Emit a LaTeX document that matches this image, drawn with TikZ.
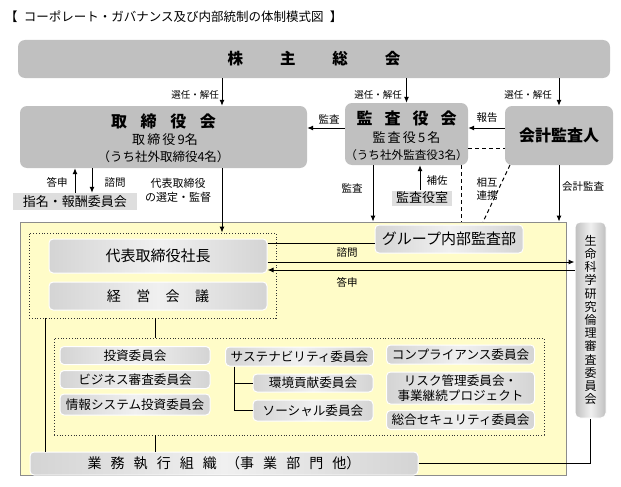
\documentclass[tikz,border=0pt]{standalone}
\usepackage{fontspec}
\setmainfont{Noto Sans CJK JP}
\usetikzlibrary{arrows.meta}
\definecolor{topgray}{RGB}{192,192,192}
\definecolor{boxgray}{RGB}{212,212,212}
\definecolor{boxlight}{RGB}{240,240,240}
\definecolor{yel}{RGB}{255,252,200}
\definecolor{lightbox}{RGB}{222,222,222}
\begin{document}
\begin{tikzpicture}[x=1pt,y=-1pt,
  topbox/.style={fill=topgray,draw=none,rounded corners=7pt,inner sep=0pt,align=center},
  inbox/.style={rounded corners=4pt,draw=white,line width=1pt,left color=boxgray,right color=boxgray,middle color=boxlight,inner sep=0pt,align=center},
  flatbox/.style={fill=lightbox,draw=none,inner sep=0pt},
  lbl/.style={font=\fontsize{10.5}{12}\selectfont,inner sep=0pt,align=center},
  arr/.style={-{Latex[length=6pt,width=5pt]},line width=1pt},
  ln/.style={line width=1pt},
  dsh/.style={line width=1pt,dash pattern=on 4pt off 3pt},
  dotbox/.style={draw=black!80,dotted,line width=0.8pt,inner sep=0pt},
  cm/.style={inbox,font=\fontsize{12.6}{14}\selectfont,minimum width=#1,minimum height=18pt},
]
\useasboundingbox (0,0) rectangle (621,487);
\fill[white] (0,0) rectangle (621,487);

% title
\node[anchor=west,inner sep=0pt,font=\fontsize{12.5}{14}\selectfont] (title) at (5,17) {【\hspace{0.5em}コーポレート・ガバナンス及び内部統制の体制模式図\hspace{0.5em}】};

% top row
\node[topbox,minimum width=592pt,minimum height=38pt,font=\bfseries\fontsize{15.5}{17}\selectfont] (gm) at (314,59) {株\hspace{37pt}主\hspace{37pt}総\hspace{37pt}会};
\node[topbox,minimum width=287pt,minimum height=62pt] (bod) at (163.5,137) {};
\node[font=\bfseries\fontsize{16}{18}\selectfont,inner sep=0pt] at (163.5,121) {取\hspace{0.85em}締\hspace{0.85em}役\hspace{0.85em}会};
\node[font=\fontsize{13}{15}\selectfont,inner sep=0pt] at (165,140) {取\,締\,役\,9名};
\node[font=\fontsize{12.5}{14}\selectfont,inner sep=0pt] at (163.5,157) {（うち社外取締役4名）};

\node[topbox,minimum width=123pt,minimum height=62pt] (kans) at (406.5,134) {};
\node[font=\bfseries\fontsize{16}{18}\selectfont,inner sep=0pt] at (406.5,118) {監\hspace{0.75em}査\hspace{0.75em}役\hspace{0.75em}会};
\node[font=\fontsize{13}{15}\selectfont,inner sep=0pt] at (406.5,138) {監\,査\,役\,5\,名};
\node[font=\fontsize{11.6}{13}\selectfont,inner sep=0pt] at (406.5,155) {（うち社外監査役3名）};

\node[topbox,minimum width=108pt,minimum height=59pt,font=\bfseries\fontsize{16}{18}\selectfont] (acct) at (559,135.5) {会計監査人};

\node[flatbox,minimum width=124pt,minimum height=17pt,font=\fontsize{13}{15}\selectfont] (nom) at (75,201.5) {指名・報酬委員会};
\node[flatbox,minimum width=60pt,minimum height=15pt,font=\fontsize{13}{15}\selectfont] (kshitsu) at (422,198) {監査役室};

% yellow area
\node[fill=yel,draw=black!45,line width=0.8pt,minimum width=546pt,minimum height=253pt,inner sep=0pt] (yelbox) at (293,348.5) {};

\node[dotbox,minimum width=247pt,minimum height=85pt] (dot1) at (152.5,275.5) {};
\node[inbox,minimum width=218pt,minimum height=34pt,font=\fontsize{15}{17}\selectfont] (pres) at (158,256) {代表取締役社長};
\node[inbox,minimum width=218pt,minimum height=28pt,font=\fontsize{14}{16}\selectfont] (keiei) at (158,296) {経\hspace{1.1em}営\hspace{1.1em}会\hspace{1.1em}議};
\node[inbox,minimum width=148pt,minimum height=28pt,font=\fontsize{15}{17}\selectfont] (audit) at (449,239) {グループ内部監査部};

\node[inbox,rounded corners=5pt,minimum width=31pt,minimum height=196pt,left color=boxgray!90!black,right color=boxgray!90!black,middle color=boxlight,font=\fontsize{12}{13.2}\selectfont] (ethics) at (590.5,320) {生\\命\\科\\学\\研\\究\\倫\\理\\審\\査\\委\\員\\会};

\node[dotbox,minimum width=490pt,minimum height=97pt] (dot2) at (299,386.5) {};
\node[cm=150pt] (c1) at (135,355.5) {投資委員会};
\node[cm=150pt] (c2) at (135,379.5) {ビジネス審査委員会};
\node[cm=150pt,minimum height=21pt] (c3) at (135,404.5) {情報システム投資委員会};
\node[cm=148pt,minimum height=19pt] (sus) at (299.5,356.5) {サステナビリティ委員会};
\node[cm=120pt] (env) at (313,383) {環境貢献委員会};
\node[cm=120pt,minimum height=21pt] (soc) at (313,410.5) {ソーシャル委員会};
\node[cm=148pt,minimum height=19pt] (comp) at (460.5,354.5) {コンプライアンス委員会};
\node[cm=148pt,minimum height=32pt,font=\fontsize{12.6}{15}\selectfont] (risk) at (460.5,388) {リスク管理委員会・\\事業継続プロジェクト};
\node[cm=148pt,minimum height=19pt] (sec) at (460.5,420) {総合セキュリティ委員会};

\node[inbox,minimum width=388pt,minimum height=23pt,font=\fontsize{14}{16}\selectfont] (exec) at (224,463.5) {業\hspace{0.65em}務\hspace{0.65em}執\hspace{0.65em}行\hspace{0.65em}組\hspace{0.65em}織\hspace{0.65em}（事\hspace{0.65em}業\hspace{0.65em}部\hspace{0.65em}門\hspace{0.65em}他）};

% reference coordinates
\coordinate (x222) at (222,0);
\coordinate (x373) at (373,0);
\coordinate (x420) at (420,0);
\coordinate (x461) at (461,0);
\coordinate (x75) at (75,0);
\coordinate (x92) at (92,0);
\coordinate (x155) at (155,0);
\coordinate (x45) at (45,0);
\coordinate (x234) at (234,0);
\coordinate (y128) at (0,128);
\coordinate (y148) at (0,148);
\coordinate (y243) at (0,243);
\coordinate (y262) at (0,262);
\coordinate (y270) at (0,270);
\coordinate (dgA) at (510,165);
\coordinate (dgB) at (483,222);

% connectors
\draw[arr] (x222 |- gm.south) -- (x222 |- bod.north);
\draw[arr] (gm.south -| kans.north) -- (kans.north);
\draw[arr] (gm.south -| acct.north) -- (acct.north);
\draw[arr] (kans.west |- y128) -- (bod.east |- y128);
\draw[arr] (acct.west |- y128) -- (kans.east |- y128);
\draw[dsh] (kans.east |- y148) -- (acct.west |- y148);
\draw[dsh] (x461 |- kans.south) -- (x461 |- yelbox.north);
\draw[dsh] (dgA) -- (dgB);
\draw[arr] (x373 |- kans.south) -- (x373 |- yelbox.north);
\draw[arr] (kshitsu.north -| x420) -- (x420 |- kans.south);
\draw[arr] (acct.south) -- (acct.south |- yelbox.north);
\draw[arr] (x75 |- nom.north) -- (x75 |- bod.south);
\draw[arr] (x92 |- bod.south) -- (x92 |- nom.north);
\draw[arr] (x222 |- bod.south) -- (x222 |- dot1.north);
\draw[ln] (pres.east |- y243) -- (audit.west |- y243);
\draw[arr] (pres.east |- y262) -- (ethics.west |- y262);
\draw[arr] (ethics.west |- y270) -- (pres.east |- y270);
\draw[ln] (x155 |- dot1.south) -- (x155 |- dot2.north);
\draw[ln] (x155 |- dot2.south) -- (x155 |- exec.north);
\draw[ln] (x45 |- dot1.south) -- (x45 |- exec.north);
\draw[ln] (exec.east) -| (ethics.south);
\draw[ln] (x234 |- sus.south) |- (soc.west);
\draw[ln] (x234 |- env.west) -- (env.west);

% labels
\node[lbl,font=\fontsize{9.5}{11}\selectfont] (l1) at (195,95) {選任・解任};
\node[lbl,font=\fontsize{9.5}{11}\selectfont] (l2) at (378,95) {選任・解任};
\node[lbl,font=\fontsize{9.5}{11}\selectfont] (l3) at (528,95) {選任・解任};
\node[lbl] (l4) at (329,119) {監査};
\node[lbl] (l5) at (487,118) {報告};
\node[lbl] (l6) at (352,188) {監査};
\node[lbl] (l7) at (437,181) {補佐};
\node[lbl,font=\fontsize{10.5}{13}\selectfont] (l8) at (487,189) {相互\\連携};
\node[lbl] (l9) at (583,187) {会計監査};
\node[lbl] (l10) at (57,182) {答申};
\node[lbl] (l11) at (115,183) {諮問};
\node[lbl,font=\fontsize{11}{14}\selectfont] (l12) at (178,190) {代表取締役\\の選定・監督};
\node[lbl] (l13) at (347,253) {諮問};
\node[lbl] (l14) at (347,282) {答申};
\end{tikzpicture}
\end{document}
